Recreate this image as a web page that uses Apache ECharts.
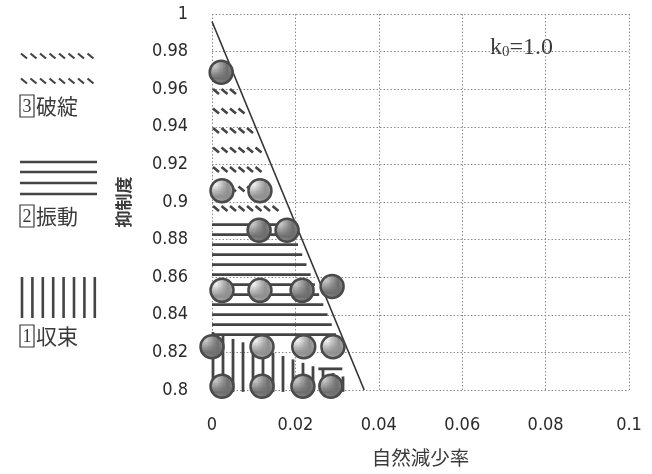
<!DOCTYPE html>
<html>
<head>
<meta charset="utf-8">
<script src="https://cdn.jsdelivr.net/npm/echarts@6/dist/echarts.min.js"></script>
<style>
html, body { margin: 0; padding: 0; background: #fff; }
#chart { width: 652px; height: 474px; }
</style>
</head>
<body>
<div id="chart"></div>
<script>
// measured points (自然減少率, 抑制度)
var pointX = [0.0022, 0.0024, 0.0115, 0.0113, 0.0180, 0.0024, 0.0115, 0.0216, 0.0288, 0.0000, 0.0120, 0.0220, 0.0290, 0.0024, 0.0120, 0.0218, 0.0285];
var pointY = [0.969, 0.906, 0.906, 0.885, 0.885, 0.853, 0.853, 0.853, 0.855, 0.823, 0.823, 0.823, 0.823, 0.802, 0.802, 0.802, 0.802];
var pointDark = [1, 0, 0, 1, 1, 0, 0, 1, 1, 1, 0, 0, 0, 1, 1, 1, 1];

// stability boundary
var boundX = [0, 0.0365];
var boundY = [0.996, 0.8];

// hatched areas: d = 破綻, h = 振動, v = 収束
var hatchKind = ['d', 'h', 'h', 'v'];
var hatchPolyX = [[0, 0.0053, 0.0178, 0], [0, 0.0184, 0.0302, 0], [0.0255, 0.0310, 0.0315, 0.0255], [0, 0.0330, 0.0330, 0]];
var hatchPolyY = [[0.962, 0.962, 0.895, 0.895], [0.889, 0.889, 0.827, 0.827], [0.8135, 0.8135, 0.809, 0.809], [0.831, 0.806, 0.799, 0.799]];

var legendNum = ['3', '2', '1'];
var legendText = ['破綻', '振動', '収束'];

var numFont = "'Liberation Sans Narrow', 'DejaVu Sans Condensed', 'Liberation Sans', sans-serif";
var cjkFont = "'Noto Sans CJK JP', sans-serif";
var ink = '#3a3a3a';

var dom = document.getElementById('chart');
var myChart = echarts.init(dom);

// small crosshatch tile for the circle fill
function gridTile(base, line) {
    var c = document.createElement('canvas');
    c.width = 3;
    c.height = 3;
    var ctx = c.getContext('2d');
    ctx.fillStyle = base;
    ctx.fillRect(0, 0, 3, 3);
    ctx.fillStyle = line;
    ctx.fillRect(0, 0, 3, 1);
    ctx.fillRect(0, 0, 1, 3);
    return { image: c, repeat: 'repeat' };
}
var fillDark = gridTile('#c4c4c4', '#6e6e6e');
var fillLight = gridTile('#ececec', '#909090');

function hatchItem(params, api) {
    var i = api.value(0);
    var pts = hatchPolyX[i].map(function (x, k) {
        return api.coord([x, hatchPolyY[i][k]]);
    });
    var kind = hatchKind[i];
    var xs = pts.map(function (p) { return p[0]; });
    var ys = pts.map(function (p) { return p[1]; });
    var minX = Math.min.apply(null, xs), maxX = Math.max.apply(null, xs);
    var minY = Math.min.apply(null, ys), maxY = Math.max.apply(null, ys);
    var children = [];

    // cross polygon with a scanline, a = 1 horizontal, a = 0 vertical
    function span(v, a) {
        var b = 1 - a, hits = [];
        for (var k = 0; k < pts.length; k++) {
            var p = pts[k], q = pts[(k + 1) % pts.length];
            if (p[a] !== q[a] && (p[a] - v) * (q[a] - v) <= 0) {
                hits.push(p[b] + (v - p[a]) / (q[a] - p[a]) * (q[b] - p[b]));
            }
        }
        if (hits.length < 2) return null;
        return [Math.min.apply(null, hits), Math.max.apply(null, hits)];
    }

    function seg(x1, y1, x2, y2, w) {
        children.push({
            type: 'line',
            shape: { x1: x1, y1: y1, x2: x2, y2: y2 },
            style: { stroke: '#444', lineWidth: w }
        });
    }

    if (kind === 'h') {
        var y = (maxY - minY < 10) ? (minY + maxY) / 2 : minY + 2;
        for (; y <= maxY; y += 10) {
            var s = span(y, 1);
            if (s) seg(s[0], y, s[1], y, 2.8);
        }
    } else if (kind === 'v') {
        for (var x = minX + 1; x <= maxX; x += 10) {
            var t = span(x, 0);
            if (t) seg(x, t[0], x, t[1], 2.8);
        }
    } else {
        for (var yy = minY + 6; yy <= maxY; yy += 19.5) {
            var r = span(yy, 1);
            if (!r) continue;
            for (var xx = r[0] + 1; xx + 5 <= r[1]; xx += 8.5) {
                seg(xx, yy - 2.5, xx + 6, yy + 2.5, 2.6);
            }
        }
    }
    return { type: 'group', children: children };
}

// legend swatches on the left
var graphics = [];
function gLine(x1, y1, x2, y2, w) {
    graphics.push({
        type: 'line',
        shape: { x1: x1, y1: y1, x2: x2, y2: y2 },
        style: { stroke: '#444', lineWidth: w }
    });
}
[56, 81].forEach(function (y) {
    for (var x = 21; x <= 92; x += 9.5) gLine(x, y - 2.5, x + 6, y + 2.5, 2.2);
});
[162, 172, 183, 194].forEach(function (y) { gLine(20, y, 97, y, 2.6); });
for (var vx = 22; vx <= 96; vx += 10.4) gLine(vx, 277, vx, 318, 2.6);

[106, 216, 336].forEach(function (cy, k) {
    graphics.push({
        type: 'rect',
        shape: { x: 20, y: cy - 11, width: 14, height: 22 },
        style: { fill: 'none', stroke: ink, lineWidth: 1.2 }
    });
    graphics.push({
        type: 'text',
        x: 27, y: cy + 1,
        style: {
            text: legendNum[k], align: 'center', verticalAlign: 'middle',
            font: "18px 'Liberation Serif', serif", fill: ink
        }
    });
    graphics.push({
        type: 'text',
        x: 36, y: cy,
        style: {
            text: legendText[k], align: 'left', verticalAlign: 'middle',
            font: "21px " + cjkFont, fill: ink
        }
    });
});

graphics.push({
    type: 'text',
    x: 490, y: 48,
    style: {
        text: '{k|k}{s|0}{k|=1.0}',
        verticalAlign: 'middle',
        rich: {
            k: { fontFamily: "'Liberation Serif', serif", fontSize: 24, fill: ink },
            s: { fontFamily: "'Liberation Serif', serif", fontSize: 15, fill: ink, padding: [9, 0, 0, 0] }
        }
    }
});

var pointData = pointX.map(function (x, i) { return [x, pointY[i]]; });
var dashed = { show: true, lineStyle: { color: '#8a8a8a', type: [1.5, 2], width: 1 } };

var option = {
    backgroundColor: '#fff',
    animation: false,
    grid: {
        left: 212,
        right: 23,
        top: 14,
        bottom: 84,
        outerBoundsMode: 'none'
    },
    graphic: graphics,
    xAxis: {
        type: 'value',
        min: 0,
        max: 0.1,
        interval: 0.02,
        name: '自然減少率',
        nameLocation: 'middle',
        nameGap: 58,
        nameTextStyle: { fontFamily: cjkFont, fontSize: 19.5, color: ink },
        axisLine: { show: false },
        axisTick: { show: false },
        axisLabel: { margin: 26, fontFamily: numFont, fontSize: 18, color: '#2a2a2a' },
        splitLine: dashed
    },
    yAxis: {
        type: 'value',
        min: 0.8,
        max: 1,
        interval: 0.02,
        name: '抑制度',
        nameLocation: 'middle',
        nameGap: 80,
        nameRotate: 90,
        nameTextStyle: { fontFamily: cjkFont, fontSize: 17, fontWeight: 'bold', color: ink },
        axisLine: { show: false },
        axisTick: { show: false },
        axisLabel: { margin: 24, padding: [10, 0, 0, 0], fontFamily: numFont, fontSize: 18, color: '#2a2a2a' },
        splitLine: dashed
    },
    series: [{
        type: 'custom',
        name: 'hatch',
        renderItem: hatchItem,
        data: hatchKind.map(function (k, i) { return [i]; }),
        clip: false,
        silent: true,
        z: 1
    }, {
        type: 'line',
        name: 'boundary',
        data: boundX.map(function (x, i) { return [x, boundY[i]]; }),
        symbol: 'none',
        lineStyle: { color: '#333', width: 1.6 },
        z: 2
    }, {
        type: 'scatter',
        name: 'points',
        data: pointData,
        symbolSize: 23,
        itemStyle: {
            color: function (p) { return pointDark[p.dataIndex] ? fillDark : fillLight; },
            borderColor: '#4a4a4a',
            borderWidth: 2.5,
            opacity: 1
        },
        z: 3
    }]
};

myChart.setOption(option);
</script>
</body>
</html>
